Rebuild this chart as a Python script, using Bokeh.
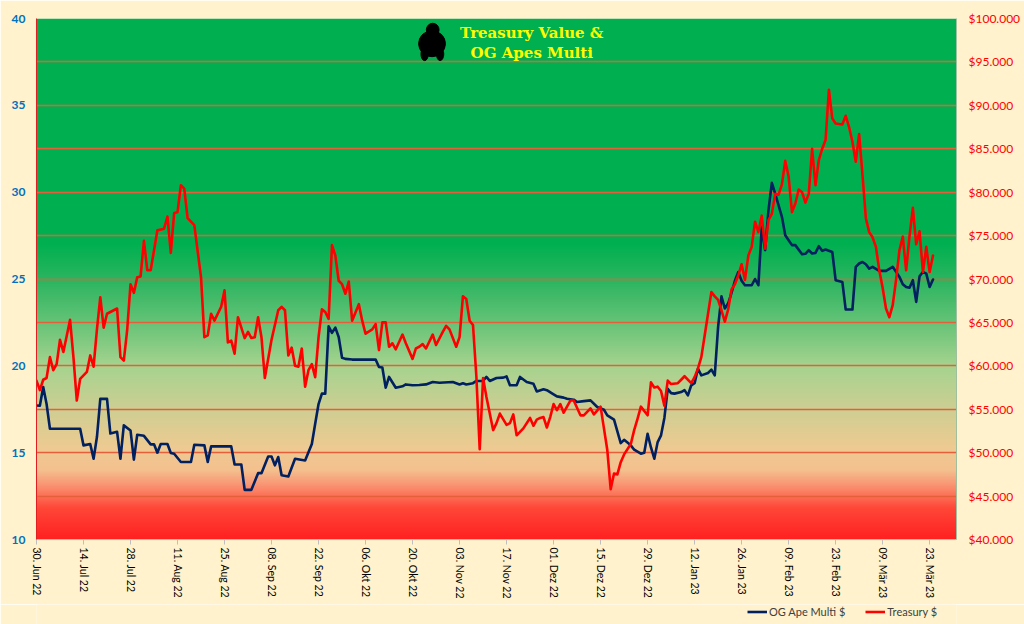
import numpy as np
import pandas as pd
from bokeh.plotting import figure
from bokeh.layouts import column
from bokeh.models import (Range1d, LinearAxis, FixedTicker, Legend, LegendItem, Label)
from bokeh.embed import file_html
from bokeh.resources import INLINE

# ---------------- data ----------------
START = "2022-06-30"
AXIS_DAYS = 274          # x axis ends 31 Mar 23

multi_day = [0, 1, 2, 3, 4, 13, 14, 16, 17, 18, 19, 21, 22, 24, 25, 26, 28, 29, 30, 32,
             34, 35, 36, 37, 39, 40, 41, 43, 46, 47, 50, 51, 52, 58, 59, 61, 62, 64, 66, 67,
             69, 70, 71, 72, 73, 75, 77, 80, 82, 83, 84, 85, 86, 87, 88, 89, 90, 91, 92, 94,
             101, 102, 103, 104, 105, 107, 109, 110, 112, 114, 116, 118, 120, 124, 126, 127,
             128, 130, 131, 133, 134, 135, 137, 139, 140, 141, 143, 144, 146, 148, 149, 151,
             152, 154, 155, 157, 158, 160, 161, 163, 165, 167, 169, 170, 172, 174, 175, 177,
             178, 180, 181, 182, 183, 184, 185, 186, 187, 188, 189, 190, 192, 193, 194, 195,
             196, 197, 198, 200, 201, 202, 203, 204, 205, 206, 207, 208, 209, 210, 211, 213,
             214, 215, 216, 217, 218, 219, 220, 222, 223, 224, 225, 226, 228, 229, 230, 231,
             232, 233, 234, 235, 237, 238, 240, 241, 243, 244, 245, 246, 247, 248, 249, 251,
             253, 255, 256, 257, 258, 259, 260, 261, 262, 263, 264, 265, 266, 267]
multi_val = [17.72, 17.7, 18.78, 17.8, 16.38, 16.38, 15.42, 15.5, 14.65, 15.9, 18.1, 18.1, 16.1,
             16.2, 14.65, 16.57, 16.28, 14.6, 16.03, 15.97, 15.48, 15.48, 15.0, 15.5, 15.5,
             14.98, 14.94, 14.46, 14.46, 15.46, 15.42, 14.46, 15.36, 15.36, 14.32, 14.32, 12.86,
             12.86, 13.82, 13.82, 14.78, 14.78, 14.27, 14.75, 13.7, 13.63, 14.65, 14.55, 15.5,
             16.67, 17.8, 18.4, 18.4, 22.28, 21.9, 22.2, 21.66, 20.47, 20.4, 20.36, 20.36, 19.93,
             19.9, 18.74, 19.36, 18.74, 18.82, 18.93, 18.88, 18.9, 18.93, 19.07, 19.03, 19.07,
             18.93, 19.0, 18.93, 19.0, 19.13, 19.13, 19.36, 19.13, 19.3, 19.32, 19.39, 18.88,
             18.88, 19.36, 19.07, 18.97, 18.52, 18.65, 18.6, 18.36, 18.24, 18.17, 18.1, 18.05,
             17.92, 17.97, 18.01, 17.63, 17.47, 17.15, 16.9, 15.55, 15.74, 15.42, 15.17, 14.94,
             15.0, 16.09, 15.3, 14.65, 15.61, 16.0, 17.0, 18.68, 18.43, 18.4, 18.49, 18.6, 18.3,
             18.88, 19.0, 19.84, 19.45, 19.59, 19.78, 19.45, 22.24, 24.0, 23.3, 23.6, 24.2, 24.9,
             25.4, 24.9, 24.64, 24.64, 25.0, 24.64, 28.0, 26.66, 28.96, 30.54, 29.92, 28.58,
             27.52, 27.23, 26.95, 26.95, 26.43, 26.45, 26.66, 26.47, 26.5, 26.89, 26.62, 26.7,
             26.56, 24.93, 24.83, 23.24, 23.24, 25.7, 25.89, 25.98, 25.85, 25.6, 25.7, 25.47,
             25.47, 25.7, 25.41, 25.12, 24.7, 24.54, 24.5, 24.93, 23.68, 25.16, 25.41, 25.31,
             24.54, 24.97]

treasury_day = [0, 1, 2, 3, 4, 5, 6, 7, 8, 10, 11, 12, 13, 15, 16, 17, 18, 19, 20, 21, 24, 25,
                26, 27, 28, 29, 30, 31, 32, 33, 34, 36, 38, 39, 40, 41, 42, 43, 44, 45, 47, 49,
                50, 51, 52, 53, 55, 56, 57, 58, 59, 60, 62, 63, 64, 65, 66, 67, 68, 70, 72, 73,
                74, 75, 76, 77, 78, 79, 80, 81, 82, 83, 84, 85, 86, 87, 88, 89, 90, 91, 92, 93,
                94, 96, 97, 98, 100, 101, 102, 103, 104, 105, 106, 107, 109, 110, 112, 113, 114,
                115, 116, 118, 119, 121, 122, 123, 125, 126, 127, 128, 129, 130, 131, 132, 133,
                134, 136, 137, 138, 140, 141, 142, 143, 145, 147, 148, 149, 150, 151, 152, 153,
                154, 155, 156, 157, 159, 160, 162, 163, 165, 166, 168, 169, 170, 171, 172, 173,
                174, 175, 177, 178, 179, 180, 182, 183, 184, 185, 186, 187, 188, 189, 191, 192,
                193, 195, 196, 197, 198, 199, 200, 201, 202, 203, 204, 205, 206, 207, 208, 209,
                210, 211, 212, 213, 214, 215, 216, 217, 218, 219, 220, 221, 222, 223, 224, 225,
                226, 227, 228, 229, 230, 231, 232, 233, 234, 235, 236, 237, 238, 240, 241, 242,
                243, 244, 245, 246, 247, 248, 249, 250, 251, 252, 253, 254, 255, 256, 257, 258,
                259, 260, 261, 262, 263, 264, 265, 266, 267]
treasury_usd = [58300, 57200, 58400, 58600, 61000, 59500, 60200, 63000, 61600, 65300, 61000,
                56000, 58500, 59300, 61200, 59900, 64200, 67900, 64400, 66000, 66600, 61000,
                60600, 64100, 69400, 68400, 70200, 70300, 74400, 71000, 71000, 75600, 75800,
                77200, 73000, 77600, 77700, 80800, 80400, 77000, 76200, 70200, 63300, 63500,
                66000, 65200, 66800, 68700, 62700, 62900, 61400, 65600, 63200, 63900, 63200,
                63300, 65600, 63300, 58600, 63000, 66400, 66800, 66400, 61200, 62100, 60000,
                59900, 62000, 57600, 59500, 60200, 58700, 63300, 66500, 66200, 65400, 73900,
                72700, 69800, 69400, 68300, 69700, 65200, 67100, 65200, 63700, 64200, 64800,
                61800, 65000, 65000, 62200, 62600, 61900, 63600, 62600, 60800, 62000, 62200,
                62500, 62000, 63600, 62400, 63900, 64600, 64200, 62200, 63300, 68000, 67700,
                65200, 64700, 58800, 50400, 58600, 56400, 52600, 53400, 54500, 53200, 53400,
                54400, 52000, 52800, 54000, 53100, 53800, 54000, 54100, 52900, 54100, 55600,
                54900, 55600, 54600, 56000, 56000, 54300, 54300, 55100, 54400, 55300, 52800,
                50300, 45800, 47600, 47500, 48900, 49800, 51000, 52600, 53900, 55300, 54300,
                58100, 57500, 57600, 57100, 55400, 58300, 57900, 58000, 58400, 58800, 58000,
                58700, 59700, 61000, 63500, 66000, 68500, 68000, 67600, 66400, 65100, 66500,
                68800, 69400, 70400, 71700, 69900, 72700, 73700, 76600, 75400, 77300, 73500,
                76800, 77500, 79800, 79700, 80900, 83600, 81800, 77700, 78700, 80300, 80000,
                78800, 79800, 85000, 80800, 83700, 85000, 86000, 91800, 88500, 87900, 87800,
                88800, 87500, 85800, 83500, 86700, 82000, 77000, 75400, 74800, 73700, 71000,
                69000, 66600, 65600, 67000, 69900, 73300, 74900, 71000, 74900, 78200, 74000,
                75500, 70800, 73700, 70800, 72700]

x_tick_labels = ["30. Jun 22", "14. Jul 22", "28. Jul 22", "11. Aug 22", "25. Aug 22",
                 "08. Sep 22", "22. Sep 22", "06. Okt 22", "20. Okt 22", "03. Nov 22",
                 "17. Nov 22", "01. Dez 22", "15. Dez 22", "29. Dez 22", "12. Jan 23",
                 "26. Jan 23", "09. Feb 23", "23. Feb 23", "09. Mär 23", "23. Mär 23"]
left_ticks = [10, 15, 20, 25, 30, 35, 40]
right_ticks = [40000, 45000, 50000, 55000, 60000, 65000, 70000, 75000, 80000, 85000, 90000,
               95000, 100000]
grid_ticks = [10, 12.5, 15, 17.5, 20, 22.5, 25, 27.5, 30, 32.5, 35, 37.5, 40]

title_lines = ["Treasury Value &", "OG Apes Multi"]
multi_label = "OG Ape Multi $"
treasury_label = "Treasury $"

# ---------------- helpers ----------------
start = pd.Timestamp(START)
DAY_MS = 86400000.0
start_ms = start.value / 1e6


def to_dates(days):
    return start + pd.to_timedelta(np.asarray(days), unit="D")


def day_ms(d):
    return start_ms + d * DAY_MS

CREAM = "#FFF2CC"
NAVY = "#002060"
RED = "#FF0000"
FONT = "Lato"

p = figure(width=1024, height=604, output_backend="svg", toolbar_location=None,
           x_range=Range1d(day_ms(0), day_ms(AXIS_DAYS)), y_range=Range1d(10, 40),
           x_axis_type="datetime",
           min_border_left=36, min_border_right=68, min_border_top=18, min_border_bottom=65)
p.border_fill_color = CREAM
p.background_fill_color = CREAM
p.outline_line_color = None
p.extra_y_ranges = {"usd": Range1d(40000, 100000)}

# gradient background (decoration) as a one-column RGBA image
stops_v = [10.0, 11.8, 13.0, 14.0, 15.3, 17.5, 20.0, 22.5, 25.0, 27.0, 40.0]
stops_c = [(255, 32, 32), (255, 70, 55), (250, 140, 108), (244, 192, 142), (238, 202, 145),
           (206, 206, 146), (166, 211, 143), (102, 195, 119), (42, 180, 95), (0, 176, 80),
           (0, 176, 80)]
NROWS = 520
mids = 10 + (np.arange(NROWS) + 0.5) * 30.0 / NROWS
img = np.empty((NROWS, 1), dtype=np.uint32)
view = img.view(dtype=np.uint8).reshape((NROWS, 1, 4))
for ch in range(3):
    view[:, 0, ch] = np.round(np.interp(mids, stops_v, [c[ch] for c in stops_c])).astype(np.uint8)
view[:, 0, 3] = 255
bg = p.image_rgba(image=[img], x=day_ms(0), y=10, dw=AXIS_DAYS * DAY_MS, dh=30)
bg.level = "image"

# grid
p.xgrid.visible = False
p.ygrid.ticker = FixedTicker(ticks=grid_ticks)
p.ygrid.grid_line_color = "#E5603A"
p.ygrid.grid_line_width = 1.4

# lines
r_multi = p.line(to_dates(multi_day), multi_val, line_color=NAVY, line_width=2.6,
                 line_join="round", line_cap="round")
r_tres = p.line(to_dates(treasury_day), treasury_usd, y_range_name="usd", line_color=RED,
                line_width=2.6, line_join="round", line_cap="round")

# x axis
xa = p.xaxis[0]
xt = [day_ms(14 * i) for i in range(len(x_tick_labels))]
xa.ticker = FixedTicker(ticks=xt)
ov = {}
for t, lab in zip(xt, x_tick_labels):
    ov[int(t)] = lab
    ov[str(int(t))] = lab
xa.major_label_overrides = ov
xa.major_label_orientation = "vertical"
xa.major_label_text_font = FONT
xa.major_label_text_font_size = "10.5px"
xa.major_label_text_color = "#000000"
xa.axis_line_color = "#BFBFBF"
xa.major_tick_line_color = "#BFBFBF"
xa.major_tick_out = 5
xa.major_tick_in = 0
xa.minor_tick_line_color = None
xa.major_label_standoff = 3

# left axis
ya = p.yaxis[0]
ya.ticker = FixedTicker(ticks=left_ticks)
ya.major_label_text_color = "#0070C0"
ya.major_label_text_font = FONT
ya.major_label_text_font_style = "bold"
ya.major_label_text_font_size = "12px"
ya.axis_line_color = "#E02020"
ya.major_tick_line_color = None
ya.major_tick_out = 0
ya.major_tick_in = 0
ya.minor_tick_line_color = None
ya.minor_tick_out = 0
ya.major_label_standoff = 11

# right axis
ra = LinearAxis(y_range_name="usd")
ra.ticker = FixedTicker(ticks=right_ticks)
rov = {}
for t in right_ticks:
    lab = "$" + f"{t:,}".replace(",", ".")
    rov[int(t)] = lab
    rov[str(int(t))] = lab
ra.major_label_overrides = rov
ra.major_label_text_color = RED
ra.major_label_text_font = FONT
ra.major_label_text_font_size = "12px"
ra.axis_line_color = "#9FBF9F"
ra.major_tick_line_color = None
ra.major_tick_out = 0
ra.major_tick_in = 0
ra.minor_tick_line_color = None
ra.minor_tick_out = 0
ra.major_label_standoff = 12
p.add_layout(ra, "right")

# title inside plot
TITLE_DAY = 147.5
for txt, yv in zip(title_lines, [39.15, 38.0]):
    p.add_layout(Label(x=day_ms(TITLE_DAY), y=yv, text=txt, text_align="center",
                       text_baseline="middle", text_color="#FFFF00",
                       text_font="DejaVu Serif", text_font_style="bold",
                       text_font_size="15px"))

# gorilla icon (simple silhouette)
p.ellipse(x=[day_ms(117.8)], y=[38.55], width=8.0 * DAY_MS, height=1.5,
          fill_color="black", line_color="black")
p.ellipse(x=[day_ms(115.6)], y=[37.95], width=2.2 * DAY_MS, height=0.75,
          fill_color="black", line_color="black")
p.ellipse(x=[day_ms(120.2)], y=[37.95], width=2.2 * DAY_MS, height=0.75,
          fill_color="black", line_color="black")
p.ellipse(x=[day_ms(118.0)], y=[39.35], width=3.8 * DAY_MS, height=0.75,
          fill_color="black", line_color="black")

# legend strip under the chart (its frame is aligned with the chart frame)
lf = figure(width=1024, height=20, output_backend="svg", toolbar_location=None,
            x_range=Range1d(0, 1), y_range=Range1d(0, 1), x_axis_type=None, y_axis_type=None,
            min_border=0)
lf.border_fill_color = CREAM
lf.background_fill_color = CREAM
lf.outline_line_color = None
lf.xgrid.visible = False
lf.ygrid.visible = False
g_multi = lf.line([5, 6], [5, 6], line_color=NAVY, line_width=2.6)
g_tres = lf.line([5, 6], [5, 6], line_color=RED, line_width=2.6)
legend = Legend(items=[LegendItem(label=multi_label, renderers=[g_multi]),
                       LegendItem(label=treasury_label, renderers=[g_tres])],
                orientation="horizontal", location=(711, 6),
                background_fill_alpha=0, border_line_color=None,
                label_text_font=FONT, label_text_font_size="11px",
                label_text_color="#404040", glyph_width=20, glyph_height=11,
                padding=0, margin=0, spacing=20, label_standoff=2)
lf.add_layout(legend)

layout = column(p, lf, spacing=0)
html = file_html(layout, INLINE)
html = html.replace("<body>", '<body style="background-color:%s">' % CREAM, 1)
open("out.html", "w").write(html)
